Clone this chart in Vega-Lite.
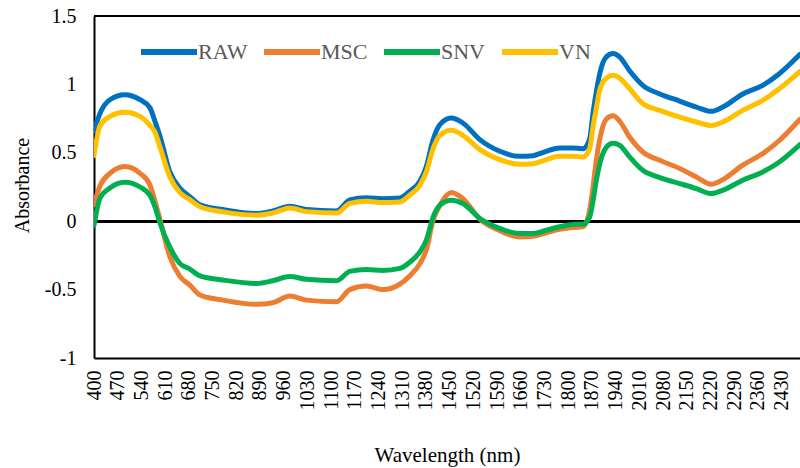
{
  "$schema": "https://vega.github.io/schema/vega-lite/v6.json",
  "width": 706,
  "height": 342,
  "autosize": {"type": "none"},
  "padding": {"left": 94, "top": 16, "right": 0, "bottom": 110},
  "background": "white",
  "config": {
    "view": {"stroke": null},
    "font": "Liberation Serif",
    "axis": {"grid": false, "ticks": false, "domainColor": "#000000", "domainWidth": 2, "labelColor": "#000000", "titleColor": "#000000", "labelFont": "Liberation Serif", "titleFont": "Liberation Serif", "titleFontWeight": "normal"}
  },
  "data": {
    "values": [
      {"wl": 400, "RAW": 0.66, "MSC": 0.12, "SNV": -0.03, "VN": 0.48},
      {"wl": 418, "RAW": 0.79, "MSC": 0.26, "SNV": 0.17, "VN": 0.70},
      {"wl": 447, "RAW": 0.888, "MSC": 0.35, "SNV": 0.243, "VN": 0.766},
      {"wl": 491, "RAW": 0.925, "MSC": 0.40, "SNV": 0.285, "VN": 0.796},
      {"wl": 536, "RAW": 0.888, "MSC": 0.35, "SNV": 0.25, "VN": 0.766},
      {"wl": 565, "RAW": 0.83, "MSC": 0.265, "SNV": 0.19, "VN": 0.70},
      {"wl": 580, "RAW": 0.73, "MSC": 0.146, "SNV": 0.105, "VN": 0.65},
      {"wl": 595, "RAW": 0.62, "MSC": 0.01, "SNV": -0.015, "VN": 0.54},
      {"wl": 624, "RAW": 0.36, "MSC": -0.26, "SNV": -0.19, "VN": 0.323},
      {"wl": 654, "RAW": 0.24, "MSC": -0.405, "SNV": -0.31, "VN": 0.207},
      {"wl": 683, "RAW": 0.18, "MSC": -0.467, "SNV": -0.35, "VN": 0.158},
      {"wl": 713, "RAW": 0.12, "MSC": -0.54, "SNV": -0.40, "VN": 0.105},
      {"wl": 781, "RAW": 0.085, "MSC": -0.577, "SNV": -0.43, "VN": 0.068},
      {"wl": 880, "RAW": 0.056, "MSC": -0.608, "SNV": -0.455, "VN": 0.044},
      {"wl": 928, "RAW": 0.075, "MSC": -0.596, "SNV": -0.435, "VN": 0.06},
      {"wl": 978, "RAW": 0.11, "MSC": -0.547, "SNV": -0.405, "VN": 0.097},
      {"wl": 1027, "RAW": 0.085, "MSC": -0.577, "SNV": -0.425, "VN": 0.07},
      {"wl": 1116, "RAW": 0.075, "MSC": -0.589, "SNV": -0.435, "VN": 0.06},
      {"wl": 1155, "RAW": 0.155, "MSC": -0.50, "SNV": -0.367, "VN": 0.13},
      {"wl": 1204, "RAW": 0.172, "MSC": -0.474, "SNV": -0.353, "VN": 0.146},
      {"wl": 1253, "RAW": 0.165, "MSC": -0.50, "SNV": -0.36, "VN": 0.136},
      {"wl": 1303, "RAW": 0.17, "MSC": -0.46, "SNV": -0.345, "VN": 0.141},
      {"wl": 1332, "RAW": 0.219, "MSC": -0.40, "SNV": -0.30, "VN": 0.19},
      {"wl": 1362, "RAW": 0.292, "MSC": -0.31, "SNV": -0.224, "VN": 0.263},
      {"wl": 1381, "RAW": 0.40, "MSC": -0.21, "SNV": -0.139, "VN": 0.36},
      {"wl": 1401, "RAW": 0.596, "MSC": 0.007, "SNV": 0.03, "VN": 0.53},
      {"wl": 1421, "RAW": 0.706, "MSC": 0.117, "SNV": 0.117, "VN": 0.628},
      {"wl": 1455, "RAW": 0.754, "MSC": 0.21, "SNV": 0.153, "VN": 0.664},
      {"wl": 1489, "RAW": 0.718, "MSC": 0.165, "SNV": 0.129, "VN": 0.628},
      {"wl": 1539, "RAW": 0.596, "MSC": 0.015, "SNV": 0.02, "VN": 0.523},
      {"wl": 1598, "RAW": 0.511, "MSC": -0.07, "SNV": -0.053, "VN": 0.45},
      {"wl": 1657, "RAW": 0.474, "MSC": -0.115, "SNV": -0.09, "VN": 0.416},
      {"wl": 1696, "RAW": 0.479, "MSC": -0.11, "SNV": -0.09, "VN": 0.42},
      {"wl": 1735, "RAW": 0.511, "MSC": -0.085, "SNV": -0.066, "VN": 0.45},
      {"wl": 1775, "RAW": 0.535, "MSC": -0.06, "SNV": -0.041, "VN": 0.474},
      {"wl": 1814, "RAW": 0.535, "MSC": -0.046, "SNV": -0.024, "VN": 0.474},
      {"wl": 1843, "RAW": 0.53, "MSC": -0.041, "SNV": -0.022, "VN": 0.47},
      {"wl": 1863, "RAW": 0.60, "MSC": 0.08, "SNV": 0.03, "VN": 0.53},
      {"wl": 1873, "RAW": 0.79, "MSC": 0.25, "SNV": 0.15, "VN": 0.69},
      {"wl": 1883, "RAW": 0.95, "MSC": 0.45, "SNV": 0.30, "VN": 0.83},
      {"wl": 1893, "RAW": 1.08, "MSC": 0.60, "SNV": 0.42, "VN": 0.96},
      {"wl": 1912, "RAW": 1.20, "MSC": 0.745, "SNV": 0.54, "VN": 1.045},
      {"wl": 1932, "RAW": 1.225, "MSC": 0.77, "SNV": 0.57, "VN": 1.066},
      {"wl": 1952, "RAW": 1.20, "MSC": 0.73, "SNV": 0.555, "VN": 1.045},
      {"wl": 1981, "RAW": 1.10, "MSC": 0.615, "SNV": 0.47, "VN": 0.968},
      {"wl": 2020, "RAW": 0.993, "MSC": 0.506, "SNV": 0.372, "VN": 0.86},
      {"wl": 2070, "RAW": 0.93, "MSC": 0.445, "SNV": 0.319, "VN": 0.81},
      {"wl": 2129, "RAW": 0.878, "MSC": 0.385, "SNV": 0.275, "VN": 0.76},
      {"wl": 2178, "RAW": 0.834, "MSC": 0.323, "SNV": 0.238, "VN": 0.725},
      {"wl": 2222, "RAW": 0.803, "MSC": 0.27, "SNV": 0.202, "VN": 0.70},
      {"wl": 2256, "RAW": 0.834, "MSC": 0.304, "SNV": 0.226, "VN": 0.725},
      {"wl": 2315, "RAW": 0.93, "MSC": 0.41, "SNV": 0.30, "VN": 0.81},
      {"wl": 2374, "RAW": 0.993, "MSC": 0.494, "SNV": 0.36, "VN": 0.883},
      {"wl": 2423, "RAW": 1.078, "MSC": 0.59, "SNV": 0.433, "VN": 0.968},
      {"wl": 2484, "RAW": 1.22, "MSC": 0.745, "SNV": 0.56, "VN": 1.095}
    ]
  },
  "layer": [
    {
      "mark": {"type": "rule", "color": "#000000", "strokeWidth": 2},
      "encoding": {"y": {"datum": 0, "type": "quantitative"}}
    },
    {
      "mark": {"type": "rule", "color": "#000000", "strokeWidth": 2},
      "encoding": {"y": {"datum": 1.5, "type": "quantitative"}}
    },
    {
      "transform": [{"fold": ["RAW", "MSC", "SNV", "VN"], "as": ["series", "value"]}],
      "mark": {"type": "line", "interpolate": "monotone", "strokeWidth": 5, "strokeCap": "round", "clip": true},
      "encoding": {
        "x": {
          "field": "wl", "type": "quantitative",
          "scale": {"domain": [400, 2484], "nice": false, "zero": false},
          "axis": {
            "title": "Wavelength (nm)",
            "values": [400, 470, 540, 610, 680, 750, 820, 890, 960, 1030, 1100, 1170, 1240, 1310, 1380, 1450, 1520, 1590, 1660, 1730, 1800, 1870, 1940, 2010, 2080, 2150, 2220, 2290, 2360, 2430],
            "labelAngle": -90,
            "labelFontSize": 20,
            "labelPadding": 12,
            "labelExpr": "'' + datum.value",
            "labelOverlap": false,
            "titleFontSize": 21,
            "titleBaseline": "middle",
            "titleY": 97
          }
        },
        "y": {
          "field": "value", "type": "quantitative",
          "scale": {"domain": [-1, 1.5], "nice": false, "zero": false},
          "axis": {
            "title": "Absorbance",
            "values": [-1, -0.5, 0, 0.5, 1, 1.5],
            "labelExpr": "'' + datum.value",
            "labelFontSize": 20,
            "labelPadding": 18,
            "titleFontSize": 20,
            "titleBaseline": "middle",
            "titleX": -72,
            "titleY": 169
          }
        },
        "color": {
          "field": "series", "type": "nominal",
          "scale": {"domain": ["RAW", "MSC", "SNV", "VN"], "range": ["#0070C0", "#ED7D31", "#00B050", "#FFC000"]},
          "legend": {
            "orient": "none",
            "legendX": 44,
            "legendY": 5,
            "direction": "horizontal",
            "title": null,
            "symbolType": "stroke",
            "symbolSize": 3136,
            "symbolStrokeWidth": 6,
            "labelFont": "Liberation Serif",
            "labelFontSize": 22,
            "labelColor": "#595959",
            "labelOffset": -2,
            "columnPadding": 4
          }
        }
      }
    }
  ]
}
